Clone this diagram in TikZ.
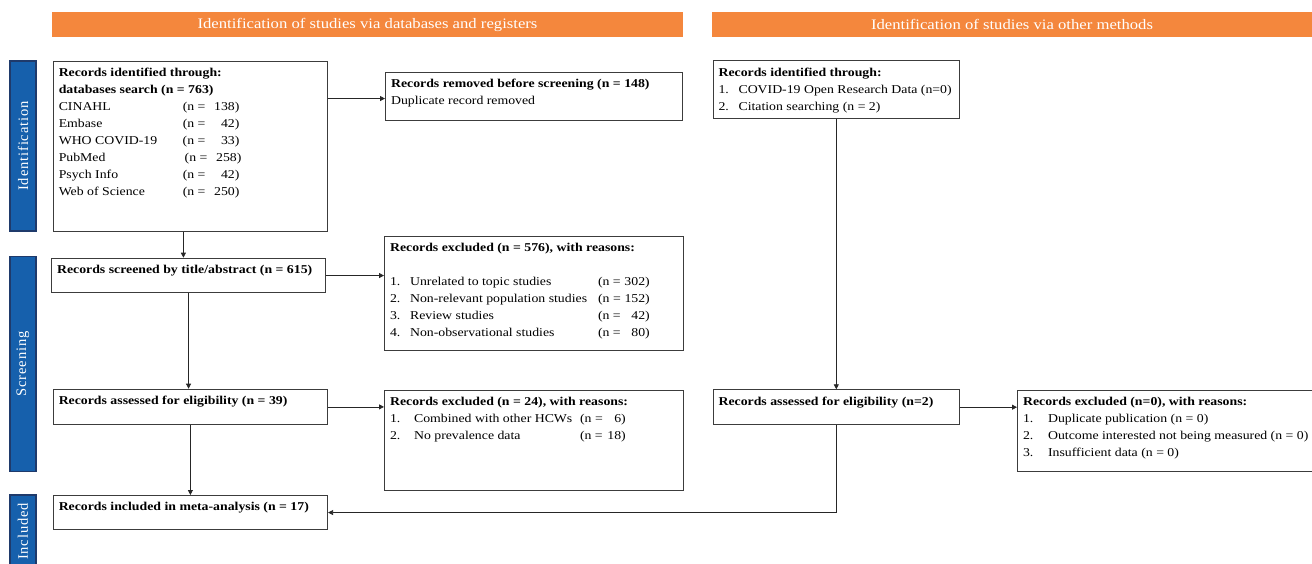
\documentclass[tikz,border=0pt]{standalone}
\usepackage{fontspec}
\setmainfont{Liberation Serif}[FakeStretch=1.15]
\newfontfamily\barfont{Liberation Serif}[LetterSpace=6]
\usepackage{xcolor}
\usetikzlibrary{arrows.meta, positioning, calc}
\definecolor{prismaorange}{HTML}{F4873D}
\definecolor{prismablue}{HTML}{1660AC}
\definecolor{prismanavy}{HTML}{1F3A6B}
\definecolor{boxline}{HTML}{3C3C3C}
\newcommand{\recbody}[3]{\begin{minipage}[c][\dimexpr#2pt-14pt\relax][t]{\dimexpr#1pt-11pt\relax}\fontsize{12}{17}\selectfont #3\end{minipage}}

\begin{document}
\begin{tikzpicture}[x=1pt, y=-1pt,
	recbox/.style={draw=boxline, line width=1.1pt, anchor=north west, inner xsep=5.5pt, inner ysep=7pt},
	sidebar/.style={fill=prismablue, draw=prismanavy, line width=1.5pt, rotate=90, minimum height=26pt, inner sep=0pt, text=white, font=\barfont\fontsize{14.5}{14.5}\selectfont},
	headbar/.style={fill=prismaorange, text=white, minimum height=25pt, inner sep=0pt, font=\fontsize{14.5}{14.5}\selectfont},
	arr/.style={-{Triangle[length=5pt,width=5pt]}, line width=0.8pt, draw=black!85}]
	\useasboundingbox (0,0) rectangle (1312,564);
	\node[headbar, minimum width=631pt] (dbhead) at (367.5,24.5) {Identification of studies via databases and registers};
	\node[headbar, minimum width=600pt] (othhead) at (1012,24.5) {Identification of studies via other methods};
	\node[sidebar, minimum width=170pt] (idbar) at (23,146) {Identification};
	\node[sidebar, minimum width=214.6pt] (scbar) at (23,364) {Screening};
	\node[sidebar, minimum width=73pt] (inbar) at (23,531.5) {Included};
	\node[recbox] (db) at (52.7,61) {\recbody{274.3}{170}{%
		\textbf{Records identified through:}\\
		\textbf{databases search (n = 763)}\\
		\makebox[124pt][l]{CINAHL}(n =\makebox[34pt][r]{138)}\\
		\makebox[124pt][l]{Embase}(n =\makebox[34pt][r]{42)}\\
		\makebox[124pt][l]{WHO COVID-19}(n =\makebox[34pt][r]{33)}\\
		\makebox[126pt][l]{PubMed}(n =\makebox[34pt][r]{258)}\\
		\makebox[124pt][l]{Psych Info}(n =\makebox[34pt][r]{42)}\\
		\makebox[124pt][l]{Web of Science}(n =\makebox[34pt][r]{250)}}};
	\node[recbox] (removed) at (385,72) {\recbody{297}{48}{%
		\textbf{Records removed before screening (n = 148)}\\
		Duplicate record removed}};
	\node[recbox] (screened) at (51,257.7) {\recbody{274}{34.6}{%
		\textbf{Records screened by title/abstract (n = 615)}}};
	\node[recbox] (excla) at (384,235.7) {\recbody{299}{114.6}{%
		\textbf{Records excluded (n = 576), with reasons:}\\
		\mbox{}\\
		\makebox[20pt][l]{1.}\makebox[188pt][l]{Unrelated to topic studies}(n =\makebox[29pt][r]{302)}\\
		\makebox[20pt][l]{2.}\makebox[188pt][l]{Non-relevant population studies}(n =\makebox[29pt][r]{152)}\\
		\makebox[20pt][l]{3.}\makebox[188pt][l]{Review studies}(n =\makebox[29pt][r]{42)}\\
		\makebox[20pt][l]{4.}\makebox[188pt][l]{Non-observational studies}(n =\makebox[29pt][r]{80)}}};
	\node[recbox] (assessed) at (52.7,388.7) {\recbody{274.3}{35.3}{%
		\textbf{Records assessed for eligibility (n = 39)}}};
	\node[recbox] (exclb) at (384,390) {\recbody{299}{100}{%
		\textbf{Records excluded (n = 24), with reasons:}\\
		\makebox[24pt][l]{1.}\makebox[166pt][l]{Combined with other HCWs}(n =\makebox[23pt][r]{6)}\\
		\makebox[24pt][l]{2.}\makebox[166pt][l]{No prevalence data}(n =\makebox[23pt][r]{18)}}};
	\node[recbox] (included) at (52.7,495) {\recbody{274.3}{34}{%
		\textbf{Records included in meta-analysis (n = 17)}}};
	\node[recbox] (oident) at (712.5,60.3) {\recbody{246.5}{58}{%
		\textbf{Records identified through:}\\
		\makebox[20pt][l]{1.}\mbox{COVID-19 Open Research Data (n=0)}\\
		\makebox[20pt][l]{2.}Citation searching (n = 2)}};
	\node[recbox] (oassess) at (712.5,389.3) {\recbody{246.5}{34.7}{%
		\textbf{Records assessed for eligibility (n=2)}}};
	\node[recbox] (oexcl) at (1017,390) {\recbody{294.5}{81}{%
		\textbf{Records excluded (n=0), with reasons:}\\
		\makebox[25pt][l]{1.}Duplicate publication (n = 0)\\
		\makebox[25pt][l]{2.}\mbox{Outcome interested not being measured (n = 0)}\\
		\makebox[25pt][l]{3.}Insufficient data (n = 0)}};
	\draw[arr] ([yshift=-2pt]removed.west -| db.east) -- ([yshift=-2pt]removed.west);
	\draw[arr] ([xshift=-7pt]db.south) -- ([xshift=-7pt]db.south |- screened.north);
	\draw[arr] (screened.east) -- (screened.east -| excla.west);
	\draw[arr] (screened.south) -- (screened.south |- assessed.north);
	\draw[arr] (assessed.east) -- (assessed.east -| exclb.west);
	\draw[arr] (assessed.south) -- (assessed.south |- included.north);
	\draw[arr] (oident.south) -- (oident.south |- oassess.north);
	\draw[arr] (oassess.east) -- (oassess.east -| oexcl.west);
	\draw[arr] (oassess.south) |- (included.east);
\end{tikzpicture}
\end{document}
